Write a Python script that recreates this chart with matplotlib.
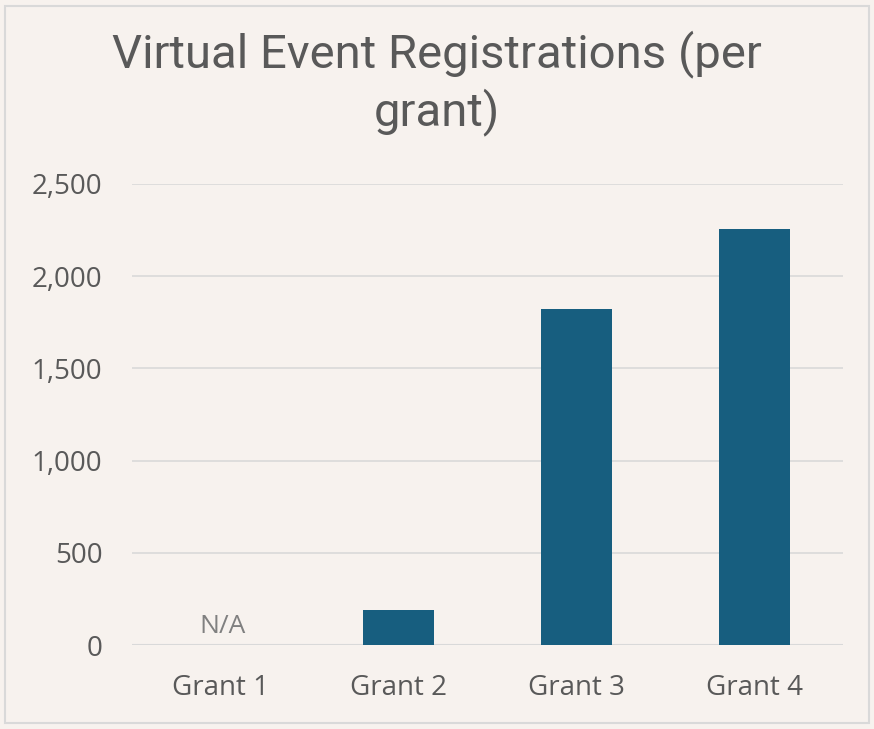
import matplotlib.pyplot as plt
import numpy as np
from matplotlib.patches import Rectangle

# data
grants = ['Grant 1', 'Grant 2', 'Grant 3', 'Grant 4']
registrations = [0, 190, 1820, 2255]
na_labels = ['N/A', '', '', '']

bg = '#F7F2EE'
bar_color = '#175E7F'
text_color = '#595959'

plt.rcParams['font.family'] = ['Open Sans', 'DejaVu Sans']

fig = plt.figure(figsize=(8.74, 7.29), dpi=100, facecolor=bg)
ax = fig.add_axes([0.1505, 0.1152, 0.8146, 0.6324], facecolor=bg)

x = np.arange(len(grants))
ax.bar(x, registrations, width=0.4, color=bar_color, zorder=3)

# label for missing value
for xi, lab in zip(x, na_labels):
    if lab:
        ax.text(xi + 0.01, 65, lab, ha='center', va='baseline', fontsize=19, color='#808080')

ax.set_xlim(-0.5, len(grants) - 0.5)
ax.set_ylim(0, 2500)
ax.set_yticks(np.arange(0, 2501, 500))
ax.set_yticklabels([f'{v:,}' for v in range(0, 2501, 500)])
ax.set_xticks(x)
ax.set_xticklabels(grants)

ax.grid(axis='y', color='#D9D9D9', linewidth=1.2, zorder=0)
for s in ax.spines.values():
    s.set_visible(False)
ax.axhline(0, color='#D9D9D9', linewidth=1.5, zorder=2)
ax.tick_params(axis='both', length=0, labelsize=20, labelcolor=text_color)
ax.tick_params(axis='y', pad=21)
ax.tick_params(axis='x', pad=21)

fig.text(0.5, 0.886, 'Virtual Event Registrations (per\ngrant)', ha='center', va='center',
         fontsize=34, color=text_color, family=['Roboto', 'DejaVu Sans'],
         linespacing=1.25)

# outer frame
fig.patches.append(Rectangle((0.006, 0.008), 0.988, 0.984, transform=fig.transFigure,
                             fill=False, edgecolor='#D9D9D9', linewidth=1.5))

fig.savefig('out.png', dpi=100, facecolor=bg)
